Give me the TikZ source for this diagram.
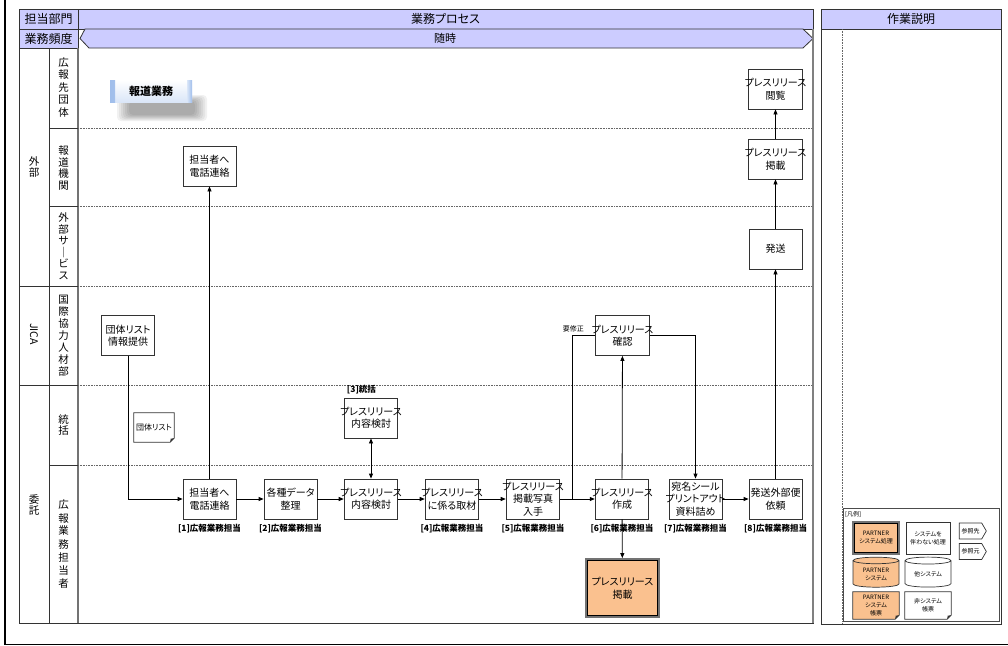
\documentclass[tikz,border=0pt]{standalone}
\usepackage{fontspec}
\setmainfont{Noto Sans CJK JP}[RawFeature=+palt]
\usepackage{xcolor}
\usetikzlibrary{arrows.meta,positioning,calc,shapes.geometric,shapes.symbols}
\definecolor{hdrblue}{RGB}{204,204,255}
\definecolor{ptorange}{RGB}{250,193,143}
\definecolor{bnrblue}{RGB}{160,190,235}
\definecolor{bnrpale}{RGB}{218,230,248}
\pgfdeclarelayer{bg}
\pgfsetlayers{bg,main}

\begin{document}
\begin{tikzpicture}[x=1pt,y=-1pt,>={Triangle[length=5pt,width=4pt]},
  proc/.style={draw=black!80,fill=white,line width=0.8pt,minimum width=53,minimum height=40,
    inner xsep=-4pt,inner ysep=0pt,align=center,font=\fontsize{10}{12.5}\selectfont},
  ptproc/.style={proc,fill=ptorange,draw=black!55,line width=1.8pt,
    path picture={\draw[black,line width=0.6pt]
      ([shift={(1.6pt,-1.6pt)}]path picture bounding box.north west) rectangle
      ([shift={(-1.6pt,1.6pt)}]path picture bounding box.south east);}},
  roletag/.style={inner sep=0pt,font=\fontsize{8.5}{10}\selectfont\bfseries},
  lanetxt/.style={inner sep=0pt,align=center,font=\fontsize{10.5}{11.5}\selectfont},
  hcell/.style={draw=black!80,fill=hdrblue,line width=0.8pt,inner sep=0pt,
    font=\fontsize{12}{14}\selectfont},
  lanesep/.style={black!60,line width=0.6pt,dash pattern=on 0.8pt off 0.8pt},
  flowline/.style={line width=0.8pt},
  legtxt/.style={inner sep=0pt,align=center,font=\fontsize{6}{8}\selectfont},
  docbox/.style={legtxt,minimum width=46,minimum height=27},
  cyl/.style={legtxt,cylinder,shape border rotate=90,aspect=0.25,draw=black!80,
    line width=0.7pt,minimum width=46,minimum height=30},
  refarrow/.style={legtxt,signal,signal to=east,signal pointer angle=120,draw=black!80,
    fill=white,line width=0.7pt,minimum width=27,minimum height=16},
  banner/.style={minimum width=82,minimum height=22,inner sep=0pt,top color=white,
    bottom color=bnrpale,font=\fontsize{11}{13}\selectfont\bfseries,
    path picture={
      \shade[left color=bnrblue,right color=bnrpale] (path picture bounding box.north west)
        rectangle ([xshift=5pt]path picture bounding box.south west);
      \shade[left color=bnrpale,right color=bnrblue] ([xshift=-5pt]path picture bounding box.north east)
        rectangle (path picture bounding box.south east);}}
]
\useasboundingbox (0,0) rectangle (1008,645);

% sheet frame
\draw[line width=2pt] (5,0) -- (5,644);
\draw[line width=0.8pt] (4,644) -- (1008,644);

% main table and headers
\draw[draw=black!80,line width=1pt] (19,9) rectangle (813,623);
\node (hBumon) [hcell,minimum width=59,minimum height=20] at (48.5,19) {担当部門};
\node (hProc) [hcell,minimum width=735,minimum height=20] at (445.5,19) {業務プロセス};
\node (hFreq) [hcell,minimum width=59,minimum height=19] at (48.5,38.5) {業務頻度};
\draw[draw=black!80,fill=hdrblue,line width=0.8pt]
  (85,29) -- (803,29) -- (813,38.5) -- (803,48) -- (89,48) -- (80,38.5) -- cycle;
\node (zuiji) [font=\fontsize{11}{13}\selectfont] at (445,38.5) {随時};

% lanes
\draw[black!80,line width=0.9pt] (49,48) -- (49,623);
\draw[black!55,line width=1.4pt] (78,48) -- (78,623);
\draw[black!50,line width=1.4pt] (813,29) -- (813,623);
\foreach \y in {286,385} \draw[black!80,line width=0.9pt] (19,\y) -- (78,\y);
\foreach \y in {128,206,465} \draw[black!80,line width=0.9pt] (49,\y) -- (78,\y);
\foreach \y in {128,206,286,385,465} \draw[lanesep] (78,\y) -- (812,\y);

\node (gGaibu) [lanetxt] at (34,167) {外\\部};
\node (gJica) [lanetxt,rotate=-90] at (34,334) {JICA};
\node (gItaku) [lanetxt] at (34,505) {委\\託};
\node (lSaki) [lanetxt,font=\fontsize{10.5}{12.5}\selectfont] at (63.5,87) {広\\報\\先\\団\\体};
\node (lHodo) [lanetxt] at (63.5,168) {報\\道\\機\\関};
\node (lGaibu) [lanetxt] at (63.5,246) {外\\部\\サ\\｜\\ビ\\ス};
\node (lJinzai) [lanetxt,font=\fontsize{10.5}{12}\selectfont] at (63.5,336) {国\\際\\協\\力\\人\\材\\部};
\node (lTokatsu) [lanetxt] at (63.5,425) {統\\括};
\node (lKoho) [lanetxt,font=\fontsize{10.5}{13}\selectfont] at (63.5,544) {広\\報\\業\\務\\担\\当\\者};

% banner with soft shadow
\begin{pgfonlayer}{bg}
  \foreach \k in {0,...,6}
    \fill[black,opacity=0.055,rounded corners=4pt] ({117+2*\k},{95+\k}) rectangle ({207-2*\k},{121-\k});
\end{pgfonlayer}
\node (houdou) [banner] at (151,91) {報道業務};

% process boxes
\node (etsuran) [proc] at (775.5,89) {プレスリリース\\閲覧};
\node (telH) [proc] at (209.5,166) {担当者へ\\電話連絡};
\node (keisai) [proc] at (775.5,159) {プレスリリース\\掲載};
\node (hassou) [proc] at (775.5,249) {発送};
\node (teikyo) [proc] at (128,335.5) {団体リスト\\情報提供};
\node (kakunin) [proc] at (622.5,335.5) {プレスリリース\\確認};
\node (kentouT) [proc] at (371,418) {プレスリリース\\内容検討};
\node (listT) [docbox,minimum width=40,minimum height=29,font=\fontsize{8}{10}\selectfont] at (154,427.5) {団体リスト};

\node (tel) [proc] at (209.5,499) {担当者へ\\電話連絡};
\node (seiri) [proc] at (290.5,499) {各種データ\\整理};
\node (kentou) [proc] at (371,499) {プレスリリース\\内容検討};
\node (shuzai) [proc] at (452,499) {プレスリリース\\に係る取材};
\node (shashin) [proc] at (533,499) {プレスリリース\\掲載写真\\入手};
\node (sakusei) [proc] at (622,499) {プレスリリース\\作成};
\node (atena) [proc] at (695.5,499) {宛名シール\\プリントアウト\\資料詰め};
\node (irai) [proc] at (775.5,499) {発送外部便\\依頼};
\node (keisaiP) [ptproc,minimum width=73,minimum height=58] at (622.5,588) {プレスリリース\\掲載};

% role tags
\node (r1) [roletag,below=5pt] at (tel.south) {[1]広報業務担当};
\node (r2) [roletag,below=5pt] at (seiri.south) {[2]広報業務担当};
\node (r3) [roletag,anchor=south west] at ([xshift=3pt,yshift=3pt]kentouT.north west) {[3]統括};
\node (r4) [roletag,below=5pt] at (shuzai.south) {[4]広報業務担当};
\node (r5) [roletag,below=5pt] at (shashin.south) {[5]広報業務担当};
\node (r6) [roletag,below=5pt] at (sakusei.south) {[6]広報業務担当};
\node (r7) [roletag,below=5pt] at (atena.south) {[7]広報業務担当};
\node (r8) [roletag,below=5pt] at (irai.south) {[8]広報業務担当};
\node (yousyusei) [anchor=east,inner sep=1pt,font=\fontsize{7}{8}\selectfont] at (585,329) {要修正};

% connectors
\coordinate (j1) at (572,499);
\draw[flowline,->] (teikyo.south) |- (tel.west);
\draw[flowline,->] (tel) -- (telH);
\draw[flowline,->] (tel) -- (seiri);
\draw[flowline,->] (seiri) -- (kentou);
\draw[flowline,<->] (kentou) -- (kentouT);
\draw[flowline,->] (kentou) -- (shuzai);
\draw[flowline,->] (shuzai) -- (shashin);
\draw[flowline,->] (shashin) -- (sakusei);
\draw[flowline] (kakunin.west) -| (j1);
\draw[flowline,->] (sakusei) -- (kakunin);
\draw[flowline,->] (kakunin.east) -| (atena.north);
\draw[flowline,->] (atena) -- (irai);
\draw[flowline,->] (irai) -- (hassou);
\draw[flowline,->] (hassou) -- (keisai);
\draw[flowline,->] (keisai) -- (etsuran);
\draw[flowline,->] (sakusei) -- (keisaiP);

% work description panel
\draw[draw=black!80,line width=1pt] (821,9) rectangle (1001,624);
\node (hSetsumei) [hcell,minimum width=180,minimum height=20] at (911,19) {作業説明};
\draw[lanesep] (842,29) -- (842,624);

% legend
\node (hanrei) [draw=black!70,line width=0.8pt,minimum width=156,minimum height=113] at (921,564.5) {};
\node (hanreiT) [legtxt,anchor=west] at (845,514) {[凡例]};
\node (lg1) [ptproc,legtxt,minimum width=46,minimum height=32,line width=1.6pt] at (876,538) {PARTNER\\システム処理};
\node (lg2) [proc,legtxt,minimum width=44,minimum height=32] at (928,538) {システムを\\伴わない処理};
\node (lg3) [refarrow] at (970.5,531) {参照先};
\node (lg4) [refarrow] at (970.5,551.5) {参照元};
\node (lg5) [cyl,fill=ptorange] at (876,574) {PARTNER\\システム};
\node (lg6) [cyl,fill=white] at (928,574) {他システム};
\node (lg7) [docbox] at (876,605.5) {PARTNER\\システム\\帳票};
\node (lg8) [docbox] at (928,605.5) {非システム\\帳票};

% document outlines
\begin{pgfonlayer}{bg}
  \foreach \d/\c in {listT/white,lg7/ptorange,lg8/white}{
    \filldraw[draw=black!80,fill=\c,line width=0.7pt] (\d.north west) -- (\d.north east)
      -- ([yshift=4pt]\d.south east) -- ([xshift=-4pt]\d.south east) -- (\d.south west) -- cycle;
    \fill[black!80] ([yshift=4pt]\d.south east) -- ([xshift=-4pt]\d.south east)
      -- ([shift={(-3.5pt,3.5pt)}]\d.south east) -- cycle;
  }
\end{pgfonlayer}
\end{tikzpicture}
\end{document}
